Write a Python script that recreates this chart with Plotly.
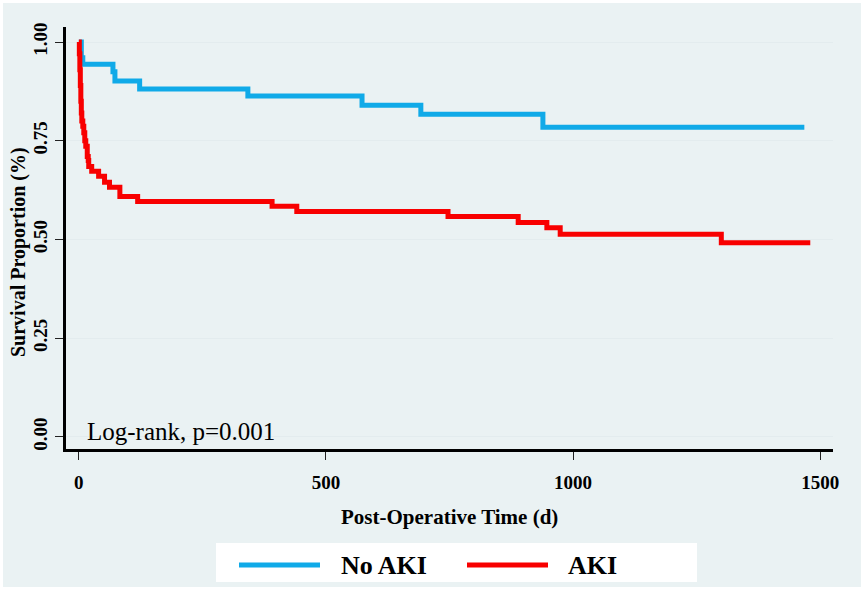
import plotly.graph_objects as go

# ---- data ----
no_aki_time = [0, 5, 8, 69, 73, 123, 342, 573, 692, 939, 1468]
no_aki_surv = [1.0, 0.96, 0.944, 0.925, 0.901, 0.881, 0.863, 0.840, 0.817, 0.784, 0.784]

aki_time = [0, 1, 2, 3, 4, 5, 6, 8, 10, 12, 14, 17, 19, 20, 26, 40, 52, 62, 83, 119,
            391, 441, 747, 889, 947, 974, 1300, 1480]
aki_surv = [1.0, 0.97, 0.93, 0.89, 0.85, 0.82, 0.80, 0.787, 0.77, 0.75, 0.736, 0.71, 0.70,
            0.685, 0.673, 0.66, 0.645, 0.632, 0.609, 0.596,
            0.584, 0.571, 0.558, 0.543, 0.530, 0.513, 0.492, 0.492]

series_names = ["No AKI", "AKI"]
series_colors = ["#10aae8", "#f80000"]
x_ticks = [0, 500, 1000, 1500]
y_ticks = [0.0, 0.25, 0.5, 0.75, 1.0]
y_tick_labels = ["0.00", "0.25", "0.50", "0.75", "1.00"]
x_title = "Post-Operative Time (d)"
y_title = "Survival Proportion (%)"
note_text = "Log-rank, p=0.001"

# ---- geometry ----
W, H = 865, 592
L, R, T, B = 66, 32, 27, 143
PW, PH = W - L - R, H - T - B
BG = "#eaf2f3"
SERIF = "Liberation Serif"


def px(x):
    return (x - L) / PW


def py(y):
    return (H - B - y) / PH


fig = go.Figure()
for t, s, name, col in [(no_aki_time, no_aki_surv, series_names[0], series_colors[0]),
                        (aki_time, aki_surv, series_names[1], series_colors[1])]:
    fig.add_trace(go.Scatter(x=t, y=s, mode="lines", name=name,
                             line=dict(color=col, width=5, shape="hv"),
                             showlegend=False))

shapes = [
    # outer light background with thin white border
    dict(type="rect", xref="paper", yref="paper", x0=px(3), x1=px(861), y0=py(587), y1=py(3),
         fillcolor=BG, line=dict(width=0), layer="below"),
    # legend box
    dict(type="rect", xref="paper", yref="paper", x0=px(216), x1=px(697), y0=py(582), y1=py(543),
         fillcolor="white", line=dict(width=0)),
    dict(type="line", xref="paper", yref="paper", x0=px(239), x1=px(320), y0=py(565), y1=py(565),
         line=dict(color=series_colors[0], width=5)),
    dict(type="line", xref="paper", yref="paper", x0=px(467), x1=px(548), y0=py(565), y1=py(565),
         line=dict(color=series_colors[1], width=5)),
]

annotations = [
    dict(text=note_text, x=12, y=0.014, xref="x", yref="y", xanchor="left", yanchor="middle",
         showarrow=False, font=dict(family=SERIF, size=25, color="black")),
    dict(text="<b>%s</b>" % x_title, x=px(449), y=py(517), xref="paper", yref="paper",
         xanchor="center", yanchor="middle", showarrow=False,
         font=dict(family=SERIF, size=21, color="black")),
    dict(text="<b>%s</b>" % y_title, x=px(18), y=py(252), xref="paper", yref="paper",
         xanchor="center", yanchor="middle", textangle=-90, showarrow=False,
         font=dict(family=SERIF, size=20, color="black")),
    dict(text="<b>%s</b>" % series_names[0], x=px(339), y=py(565), xref="paper", yref="paper",
         xanchor="left", yanchor="middle", showarrow=False,
         font=dict(family=SERIF, size=26, color="black")),
    dict(text="<b>%s</b>" % series_names[1], x=px(566), y=py(565), xref="paper", yref="paper",
         xanchor="left", yanchor="middle", showarrow=False,
         font=dict(family=SERIF, size=26, color="black")),
]

fig.update_layout(
    width=W, height=H,
    margin=dict(l=L, r=R, t=T, b=B, pad=0),
    paper_bgcolor="white",
    plot_bgcolor="white",
    shapes=shapes,
    annotations=annotations,
    font=dict(family=SERIF, color="black"),
    xaxis=dict(range=[-26, 1526], tickvals=x_ticks, ticktext=["<b>%d</b>" % v for v in x_ticks],
               showgrid=False, zeroline=False, showline=True, linecolor="black", linewidth=3,
               ticks="outside", ticklen=8, tickwidth=1, tickcolor="#222",
               tickfont=dict(family=SERIF, size=19, color="black"), ticklabelstandoff=6),
    yaxis=dict(range=[-0.0304, 1.038], tickvals=y_ticks,
               ticktext=["<b>%s</b>" % s for s in y_tick_labels], tickangle=-90,
               showgrid=True, gridcolor="#e3ecee", gridwidth=1, zeroline=False,
               showline=True, linecolor="black", linewidth=3,
               ticks="outside", ticklen=8, tickwidth=1, tickcolor="#222",
               tickfont=dict(family=SERIF, size=19, color="black"), ticklabelstandoff=0),
)

fig.write_html("out.html", config={"displayModeBar": False},
               post_script="document.body.style.margin='0';document.body.style.padding='0';")
